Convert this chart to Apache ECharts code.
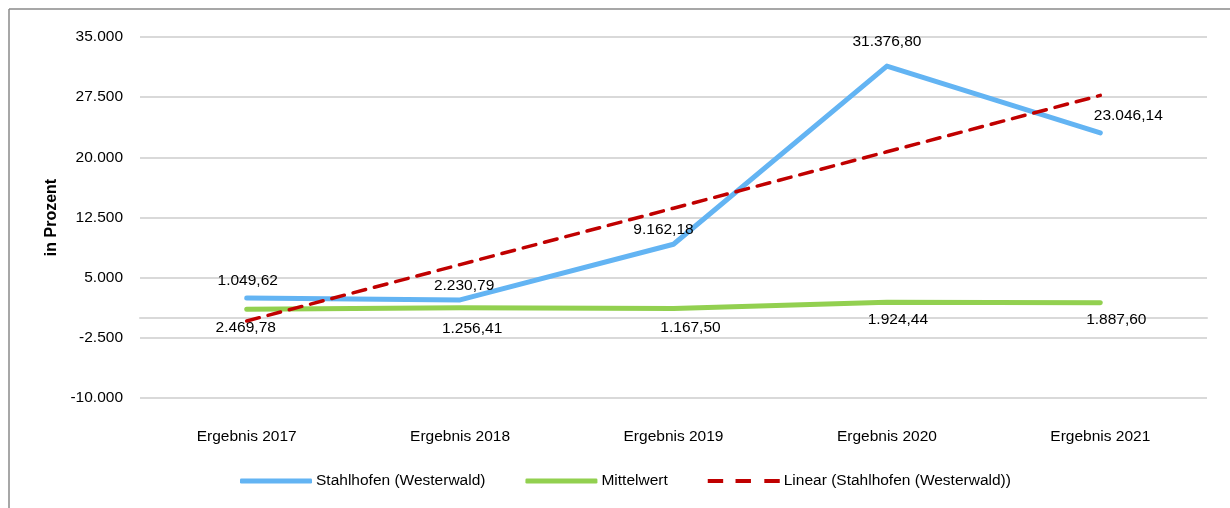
<!DOCTYPE html>
<html>
<head>
<meta charset="utf-8">
<script src="https://cdn.jsdelivr.net/npm/echarts@6/dist/echarts.min.js"></script>
<style>
html,body{margin:0;padding:0;background:#fff;}
#c{width:1230px;height:508px;}
</style>
</head>
<body>
<div id="c"></div>
<script>
const categories = ['Ergebnis 2017','Ergebnis 2018','Ergebnis 2019','Ergebnis 2020','Ergebnis 2021'];
const stahlhofen = [2469.78, 2230.79, 9162.18, 31376.80, 23046.14];
const mittelwert = [1049.62, 1256.41, 1167.50, 1924.44, 1887.60];
const linearTrend = [-400, 6630, 13660, 20690, 27720];
const seriesNames = ['Stahlhofen (Westerwald)', 'Mittelwert', 'Linear (Stahlhofen (Westerwald))'];
const yTicks = {min: -10000, max: 35000, interval: 7500};

const FONT = "'Liberation Sans Narrow','Arial Narrow','Liberation Sans',Arial,sans-serif";
const FS = 15.5;
const BLUE = '#63b4f3', GREEN = '#92d050', RED = '#c00000';

function deNum(v, dec) {
  const neg = v < 0;
  let s = Math.abs(v).toFixed(dec);
  let [i, f] = s.split('.');
  i = i.replace(/\B(?=(\d{3})+(?!\d))/g, '.');
  return (neg ? '-' : '') + i + (f ? ',' + f : '');
}

// label placement (pixel offsets from each point)
const blueOff = [[-1, 30], [4, -14], [-10, -15], [0, -24], [28, -17]];
const greenOff = [[1, -29], [12, 21], [17, 19], [11, 17], [16, 17]];

function withLabels(vals, offs) {
  return vals.map((v, i) => ({
    value: v,
    label: {show: true, position: 'inside', offset: offs[i]}
  }));
}

const labelStyle = {
  color: '#000', fontFamily: FONT, fontSize: FS,
  formatter: p => deNum(p.value, 2)
};

const dashIcon = 'path://M0,0h15v4h-15z M27,0h15v4h-15z M55,0h15v4h-15z';

const chart = echarts.init(document.getElementById('c'));
chart.setOption({
  animation: false,
  grid: {left: 140, right: 23, top: 37, bottom: 110, containLabel: false},
  graphic: [
    {type: 'line', shape: {x1: 9, y1: 9, x2: 1230, y2: 9}, style: {stroke: '#8a8a8a', lineWidth: 1.5}, silent: true},
    {type: 'line', shape: {x1: 9, y1: 9, x2: 9, y2: 508}, style: {stroke: '#8a8a8a', lineWidth: 1.5}, silent: true}
  ],
  legend: {
    left: 240, top: 473, padding: 0,
    itemWidth: 72, itemHeight: 5, itemGap: 40,
    textStyle: {fontFamily: FONT, fontSize: FS, color: '#000', padding: [0, 0, 0, -1]},
    data: [
      {name: seriesNames[0], icon: 'roundRect', itemStyle: {color: BLUE}},
      {name: seriesNames[1], icon: 'roundRect', itemStyle: {color: GREEN}},
      {name: seriesNames[2], icon: dashIcon, itemStyle: {color: RED}}
    ]
  },
  xAxis: [{
    type: 'category', data: categories, position: 'bottom',
    axisLine: {show: false, onZero: false}, axisTick: {show: false},
    axisLabel: {color: '#000', fontFamily: FONT, fontSize: FS, margin: 31}
  }, {
    type: 'category', data: categories, position: 'top',
    axisLine: {show: true, onZero: true, lineStyle: {color: '#d9d9d9', width: 2}},
    axisTick: {show: false}, axisLabel: {show: false}
  }],
  yAxis: {
    type: 'value', min: yTicks.min, max: yTicks.max, interval: yTicks.interval,
    name: 'in Prozent', nameLocation: 'middle', nameGap: 70,
    nameTextStyle: {fontFamily: FONT, fontSize: 16, fontWeight: 'bold', color: '#000'},
    axisLine: {show: false}, axisTick: {show: false},
    axisLabel: {color: '#000', fontFamily: FONT, fontSize: FS, margin: 17, formatter: v => deNum(v, 0)},
    splitLine: {lineStyle: {color: '#d9d9d9', width: 2}}
  },
  series: [{
    name: seriesNames[0], type: 'line', data: withLabels(stahlhofen, blueOff),
    symbol: 'circle', symbolSize: 0, itemStyle: {color: BLUE},
    lineStyle: {color: BLUE, width: 5, cap: 'round', join: 'round'},
    label: labelStyle, z: 3
  }, {
    name: seriesNames[1], type: 'line', data: withLabels(mittelwert, greenOff),
    symbol: 'circle', symbolSize: 0, itemStyle: {color: GREEN},
    lineStyle: {color: GREEN, width: 5, cap: 'round', join: 'round'},
    label: labelStyle, z: 2
  }, {
    name: seriesNames[2], type: 'line', data: linearTrend,
    symbol: 'none', itemStyle: {color: RED},
    lineStyle: {color: RED, width: 3.5, type: [13, 9], cap: 'round'},
    z: 4
  }]
});
</script>
</body>
</html>
